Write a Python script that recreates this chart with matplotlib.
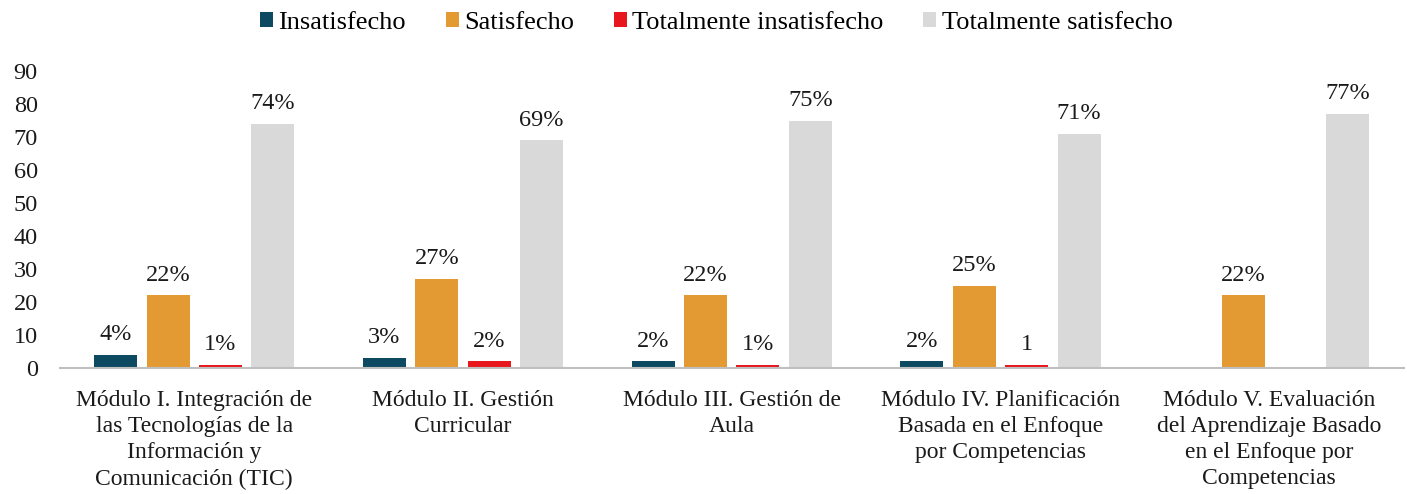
import numpy as np
import matplotlib.pyplot as plt

modules = [
    "Módulo I. Integración de\nlas Tecnologías de la\nInformación y\nComunicación (TIC)",
    "Módulo II. Gestión\nCurricular",
    "Módulo III. Gestión de\nAula",
    "Módulo IV. Planificación\nBasada en el Enfoque\npor Competencias",
    "Módulo V. Evaluación\ndel Aprendizaje Basado\nen el Enfoque por\nCompetencias",
]
series = ["Insatisfecho", "Satisfecho", "Totalmente insatisfecho", "Totalmente satisfecho"]
insatisfecho = [4, 3, 2, 2, 0]
satisfecho = [22, 27, 22, 25, 22]
tot_insatisfecho = [1, 2, 1, 1, 0]
tot_satisfecho = [74, 69, 75, 71, 77]
# data labels as printed on the chart ("" = no label)
lbl_insat = ["4%", "3%", "2%", "2%", ""]
lbl_sat = ["22%", "27%", "22%", "25%", "22%"]
lbl_tinsat = ["1%", "2%", "1%", "1", ""]
lbl_tsat = ["74%", "69%", "75%", "71%", "77%"]

COLORS = ["#0d4a62", "#e39a33", "#e8161d", "#d9d9d9"]
TXT = "#1a1a1a"

plt.rcParams["font.family"] = ["Liberation Serif", "DejaVu Serif"]

fig = plt.figure(figsize=(14.07, 4.94), dpi=100)
ax = fig.add_axes([0.0426, 0.255, 0.955, 0.601])

x = np.arange(len(modules))
width = 0.16
pitch = 0.195
values = [insatisfecho, satisfecho, tot_insatisfecho, tot_satisfecho]
labels = [lbl_insat, lbl_sat, lbl_tinsat, lbl_tsat]
for i, (vals, lbls, name, c) in enumerate(zip(values, labels, series, COLORS)):
    pos = x + (i - 1.5) * pitch
    ax.bar(pos, vals, width, color=c, label=name)
    for px, v, t in zip(pos, vals, lbls):
        if t:
            ax.annotate(t, (px, v), xytext=(0, 7), textcoords="offset points",
                        ha="center", va="bottom", fontsize=17.5, color=TXT)

ax.set_xlim(-0.5, len(modules) - 0.5)
ax.set_ylim(0, 90)
ax.set_yticks(range(0, 91, 10))
ax.set_xticks(x)
ax.set_xticklabels(modules, fontsize=17, linespacing=1.33)
ax.tick_params(axis="both", length=0, colors=TXT)
ax.tick_params(axis="y", pad=16, labelsize=17.5)
ax.tick_params(axis="x", pad=15.5)
for s in ["top", "right", "left"]:
    ax.spines[s].set_visible(False)
ax.spines["bottom"].set_color("#bfbfbf")
ax.spines["bottom"].set_linewidth(1.5)

fig.legend(loc="upper center", bbox_to_anchor=(0.509, 1.024), ncol=4, frameon=False,
           fontsize=19, handlelength=0.5, handleheight=0.5, handletextpad=0.2,
           columnspacing=1.5)

fig.savefig("out.png", dpi=100)
